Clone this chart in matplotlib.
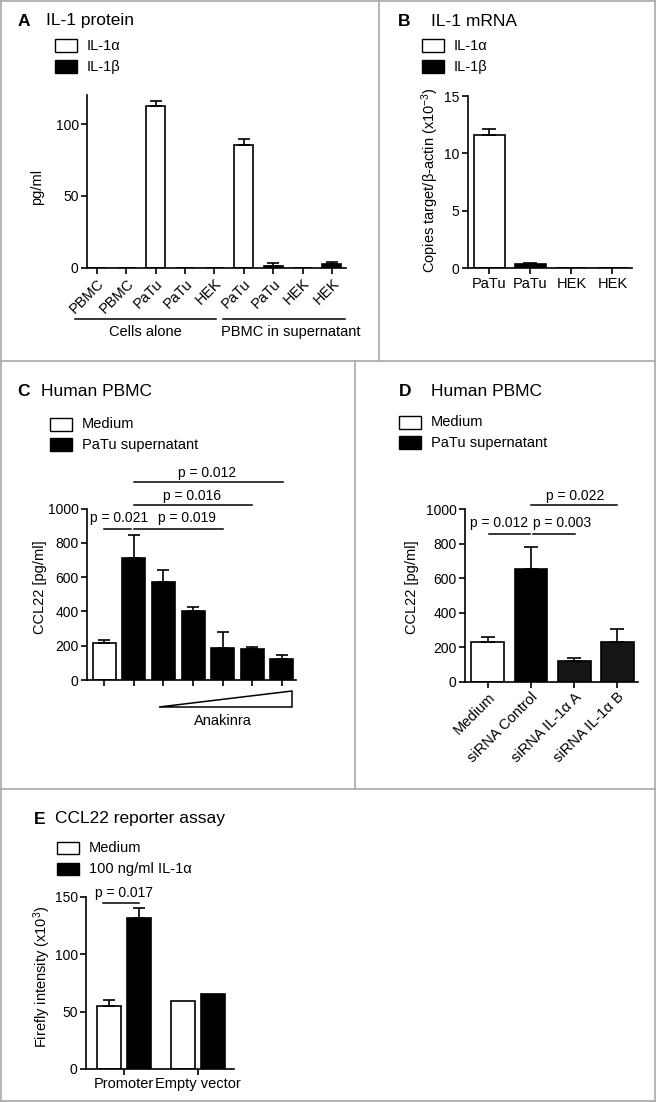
import matplotlib
matplotlib.use('Agg')
import matplotlib.pyplot as plt
from matplotlib.patches import Rectangle, Polygon
from matplotlib.lines import Line2D

plt.rcParams['font.family'] = ['Liberation Sans', 'DejaVu Sans']
plt.rcParams['mathtext.fontset'] = 'custom'
plt.rcParams['mathtext.rm'] = 'Liberation Sans'
plt.rcParams['mathtext.default'] = 'regular'
plt.rcParams['axes.linewidth'] = 1.2

# ---- data ----
# A: IL-1 protein (pg/ml)
a_labels = ['PBMC', 'PBMC', 'PaTu', 'PaTu', 'HEK', 'PaTu', 'PaTu', 'HEK', 'HEK']
a_kind = ['a', 'b', 'a', 'b', 'a', 'a', 'b', 'a', 'b']
a_vals = [0, 0, 112.3, 0, 0, 85.4, 1.5, 0, 2.5]
a_err = [0, 0, 3.9, 0, 0, 3.9, 1.7, 0, 1.7]
a_groups = ['Cells alone', 'PBMC in supernatant']

# B: IL-1 mRNA (copies target / beta-actin x10^-3)
b_labels = ['PaTu', 'PaTu', 'HEK', 'HEK']
b_kind = ['a', 'b', 'a', 'b']
b_vals = [11.57, 0.38, 0.05, 0]
b_err = [0.57, 0.06, 0, 0]

# C: CCL22 with anakinra titration
c_kind = ['m', 'p', 'p', 'p', 'p', 'p', 'p']
c_vals = [218, 714, 574, 405, 185, 179, 125]
c_err = [15, 134, 68, 23, 93, 11, 21]
c_pvals = ['p = 0.021', 'p = 0.019', 'p = 0.016', 'p = 0.012']

# D: CCL22 with siRNA
d_labels = ['Medium', 'siRNA Control', 'siRNA IL-1\u03b1 A', 'siRNA IL-1\u03b1 B']
d_colors = ['white', 'black', '#151515', '#151515']
d_vals = [228, 656, 120, 228]
d_err = [33, 124, 19, 78]
d_pvals = ['p = 0.012', 'p = 0.003', 'p = 0.022']

# E: reporter assay
e_groups = ['Promoter', 'Empty vector']
e_medium = [54.5, 59.0]
e_medium_err = [5.5, 0]
e_il1a = [131.2, 65.3]
e_il1a_err = [8.8, 0]

W, H = 656, 1102
fig = plt.figure(figsize=(W / 100, H / 100), dpi=100)
FS = 10.5
LW = 1.2


def make_axes(x0, x1, ytop, ybot):
    ax = fig.add_axes([x0 / W, 1 - ybot / H, (x1 - x0) / W, (ybot - ytop) / H])
    ax.spines['top'].set_visible(False)
    ax.spines['right'].set_visible(False)
    ax.tick_params(direction='out', length=4, width=LW, labelsize=10, pad=2)
    return ax


def ftext(x, y, s, **kw):
    kw.setdefault('fontsize', FS)
    kw.setdefault('va', 'center')
    fig.text(x / W, 1 - y / H, s, **kw)


def fline(x0, y0, x1, y1):
    fig.add_artist(Line2D([x0 / W, x1 / W], [1 - y0 / H, 1 - y1 / H],
                          transform=fig.transFigure, color='#a8a8a8', lw=1.2))


def legend_entry(x, y, fill, label, h=13):
    fig.add_artist(Rectangle((x / W, 1 - (y + h) / H), 22 / W, h / H,
                             transform=fig.transFigure, facecolor=fill,
                             edgecolor='black', lw=1))
    ftext(x + 32, y + h / 2, label)


def title(xl, xt, y, letter, s):
    ftext(xl, y, letter, fontsize=12.5, fontweight='bold')
    ftext(xt, y, s, fontsize=12.5)


def errbars(ax, x, v, e, cap=4.5):
    idx = [i for i in range(len(e)) if e[i] > 0]
    ax.errorbar([x[i] for i in idx], [v[i] for i in idx],
                yerr=[[0] * len(idx), [e[i] for i in idx]],
                fmt='none', ecolor='black', elinewidth=LW, capsize=cap, capthick=LW)


def sig(ax, x0, x1, y, tx, ty, s):
    ax.plot([x0, x1], [y, y], color='black', lw=1.1, clip_on=False)
    ax.text(tx, ty, s, ha='center', va='center', fontsize=10, clip_on=False)


# ---- panel frames ----
fline(0.6, 0.6, W - 0.6, 0.6)
fline(0.6, 0.6, 0.6, H - 0.6)
fline(W - 0.6, 0.6, W - 0.6, H - 0.6)
fline(0.6, H - 0.6, W - 0.6, H - 0.6)
fline(379, 0, 379, 361)
fline(0, 361, W, 361)
fline(355, 361, 355, 789)
fline(0, 789, W, 789)

# ---- A ----
ax = make_axes(87, 346, 95.2, 268)
xa = list(range(len(a_vals)))
ax.bar(xa, a_vals, width=0.65, color=['white' if k == 'a' else 'black' for k in a_kind],
       edgecolor='black', lw=LW)
errbars(ax, xa, a_vals, a_err)
ax.set_xlim(-0.34, 8.48)
ax.set_ylim(0, 120)
ax.set_yticks([0, 50, 100])
ax.set_xticks(xa)
ax.set_xticklabels(a_labels, rotation=45, ha='right', rotation_mode='anchor', fontsize=FS)
tr = ax.get_xaxis_transform()
ax.plot([-0.75, 4.05], [-0.295, -0.295], color='black', lw=1.1, transform=tr, clip_on=False)
ax.plot([4.29, 8.44], [-0.295, -0.295], color='black', lw=1.1, transform=tr, clip_on=False)
ax.text(1.65, -0.37, a_groups[0], transform=tr, ha='center', va='center', fontsize=FS)
ax.text(6.6, -0.37, a_groups[1], transform=tr, ha='center', va='center', fontsize=FS)
ftext(37, 187, 'pg/ml', rotation=90, ha='center')
title(18, 46, 21, 'A', 'IL-1 protein')
legend_entry(55, 39, 'white', 'IL-1\u03b1')
legend_entry(55, 60, 'black', 'IL-1\u03b2')

# ---- B ----
ax = make_axes(468, 632, 96, 268.3)
xb = list(range(len(b_vals)))
ax.bar(xb, b_vals, width=0.76, color=['white' if k == 'a' else 'black' for k in b_kind],
       edgecolor='black', lw=LW)
errbars(ax, xb, b_vals, b_err, cap=5)
ax.set_xlim(-0.52, 3.48)
ax.set_ylim(0, 15)
ax.set_yticks([0, 5, 10, 15])
ax.set_xticks(xb)
ax.set_xticklabels(b_labels, fontsize=FS)
ftext(430, 180, 'Copies target/\u03b2-actin (x10$^{-3}$)', rotation=90, ha='center')
title(398, 431, 21, 'B', 'IL-1 mRNA')
legend_entry(422, 39, 'white', 'IL-1\u03b1')
legend_entry(422, 60, 'black', 'IL-1\u03b2')

# ---- C ----
ax = make_axes(87, 296, 508.7, 680)
xc = list(range(len(c_vals)))
ax.bar(xc, c_vals, width=0.78, color=['white' if k == 'm' else 'black' for k in c_kind],
       edgecolor='black', lw=LW)
errbars(ax, xc, c_vals, c_err)
ax.set_xlim(-0.585, 6.48)
ax.set_ylim(0, 1000)
ax.set_yticks(range(0, 1001, 200))
ax.set_xticks(xc)
ax.set_xticklabels([''] * len(xc))
sig(ax, 0, 0.9, 883, 0.5, 947, c_pvals[0])
sig(ax, 1, 4, 883, 2.81, 947, c_pvals[1])
sig(ax, 1, 5, 1022, 2.98, 1076, c_pvals[2])
sig(ax, 1, 6.03, 1156, 3.47, 1210, c_pvals[3])
tr = ax.get_xaxis_transform()
ax.add_patch(Polygon([[1.85, -0.158], [6.36, -0.158], [6.36, -0.064]], closed=True,
                     facecolor='white', edgecolor='black', lw=1.1, transform=tr, clip_on=False))
ax.text(4.0, -0.24, 'Anakinra', transform=tr, ha='center', va='center', fontsize=FS)
ftext(40, 587, 'CCL22 [pg/ml]', rotation=90, ha='center')
title(17, 41, 391, 'C', 'Human PBMC')
legend_entry(50, 418, 'white', 'Medium')
legend_entry(50, 438, 'black', 'PaTu supernatant')

# ---- D ----
ax = make_axes(465, 638, 509.3, 681.7)
xd = list(range(len(d_vals)))
ax.bar(xd, d_vals, width=0.76, color=d_colors, edgecolor='black', lw=LW)
errbars(ax, xd, d_vals, d_err, cap=5)
ax.set_xlim(-0.53, 3.48)
ax.set_ylim(0, 1000)
ax.set_yticks(range(0, 1001, 200))
ax.set_xticks(xd)
ax.set_xticklabels(d_labels, rotation=45, ha='right', rotation_mode='anchor', fontsize=FS)
sig(ax, 0.03, 0.97, 855, 0.25, 919, d_pvals[0])
sig(ax, 1.04, 2.02, 855, 1.72, 919, d_pvals[1])
sig(ax, 1.01, 3.0, 1025, 2.02, 1077, d_pvals[2])
ftext(412, 587, 'CCL22 [pg/ml]', rotation=90, ha='center')
title(399, 431, 391, 'D', 'Human PBMC')
legend_entry(399, 416, 'white', 'Medium')
legend_entry(399, 436, 'black', 'PaTu supernatant')

# ---- E ----
ax = make_axes(86, 234, 896.7, 1069)
xe = list(range(len(e_groups)))
off, bw = 0.205, 0.325
xm = [x - off for x in xe]
xi = [x + off for x in xe]
ax.bar(xm, e_medium, width=bw, color='white', edgecolor='black', lw=LW)
ax.bar(xi, e_il1a, width=bw, color='black', edgecolor='black', lw=LW)
errbars(ax, xm, e_medium, e_medium_err)
errbars(ax, xi, e_il1a, e_il1a_err)
ax.set_xlim(-0.51, 1.49)
ax.set_ylim(0, 150)
ax.set_yticks([0, 50, 100, 150])
ax.set_xticks(xe)
ax.set_xticklabels(e_groups, fontsize=FS)
sig(ax, -0.28, 0.2, 144.8, 0.01, 153.5, 'p = 0.017')
ftext(42, 977, 'Firefly intensity (x10$^{3}$)', rotation=90, ha='center')
title(34, 55, 819, 'E', 'CCL22 reporter assay')
legend_entry(57, 842, 'white', 'Medium', h=12)
legend_entry(57, 863, 'black', '100 ng/ml IL-1\u03b1', h=12)

fig.savefig('out.png', dpi=100)
